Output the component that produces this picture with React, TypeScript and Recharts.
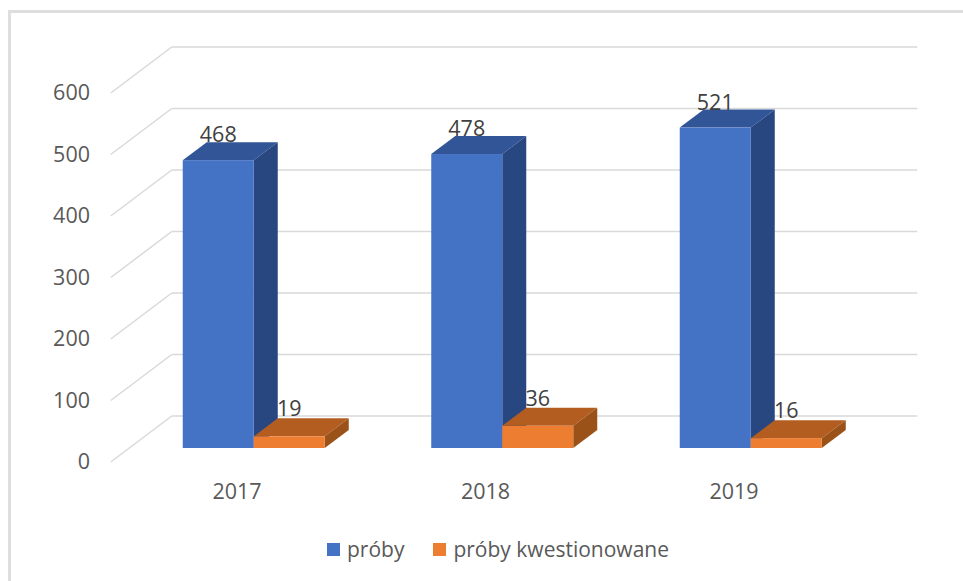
import React from 'react';
import { BarChart, Bar, XAxis, YAxis, CartesianGrid, Legend, LabelList } from 'recharts';

const YEARS = ['2017', '2018', '2019'];
const PROBY = [468, 478, 521];
const KWESTIONOWANE = [19, 36, 16];
const Y_TICKS = [0, 100, 200, 300, 400, 500, 600];

const data = YEARS.map((year, i) => ({ year, proby: PROBY[i], kwestionowane: KWESTIONOWANE[i] }));

const FONT = '"Open Sans", sans-serif';
const TEXT = '#595959';
const DEPTH_X = 24;
const DEPTH_Y = 18;

// floor depth of the fake 3D grid, relative to the plane the bars stand on
const WALL_DX = 42;
const WALL_DY = -32;
const FLOOR_DX = -19;
const FLOOR_DY = 14;

const Box = (props: any) => {
  const { x, y, width, height, fill, top, side } = props;
  const r = x + width;
  const b = y + height;
  return (
    <g>
      <polygon points={`${x},${y} ${x + DEPTH_X},${y - DEPTH_Y} ${r + DEPTH_X},${y - DEPTH_Y} ${r},${y}`} fill={top} />
      <polygon points={`${r},${y} ${r + DEPTH_X},${y - DEPTH_Y} ${r + DEPTH_X},${b - DEPTH_Y} ${r},${b}`} fill={side} />
      <rect x={x} y={y} width={width} height={height} fill={fill} />
    </g>
  );
};

const GridLine = (props: any) => {
  const { x1, x2, y1 } = props;
  const backX = x1 + WALL_DX;
  const backY = y1 + WALL_DY;
  return (
    <g>
      <line x1={x1 + FLOOR_DX} y1={y1 + FLOOR_DY} x2={backX} y2={backY} stroke="#d9d9d9" strokeWidth={1.5} />
      <line x1={backX} y1={backY} x2={x2 + WALL_DX} y2={backY} stroke="#d9d9d9" strokeWidth={1.5} />
    </g>
  );
};

const valueLabel = (lift: number) => (props: any) => {
  const { x, y, width, value } = props;
  return (
    <text x={x + width / 2} y={y - lift} textAnchor="middle" fontFamily={FONT} fontSize={21.5} fill="#404040">
      {value}
    </text>
  );
};

const YTick = (props: any) => (
  <text x={90} y={props.y + 21} textAnchor="end" fontFamily={FONT} fontSize={21.5} fill={TEXT}>
    {props.payload.value}
  </text>
);

const XTick = (props: any) => (
  <text x={props.x - 17} y={499} textAnchor="middle" fontFamily={FONT} fontSize={21.5} fill={TEXT}>
    {props.payload.value}
  </text>
);

const LegendContent = (props: any) => (
  <div style={{ display: 'flex', paddingLeft: 327, height: 30, alignItems: 'center', fontFamily: FONT, fontSize: 21, color: TEXT }}>
    {props.payload.map((entry: any, i: number) => (
      <span key={entry.value} style={{ display: 'flex', alignItems: 'center', marginLeft: i ? 29 : 0 }}>
        <span style={{ width: 13, height: 13, background: entry.color, marginRight: 7 }} />
        {entry.value}
      </span>
    ))}
  </div>
);

export default function App() {
  return (
    <div style={{ position: 'absolute', left: 0, top: 0, width: 963, height: 581, background: '#fff', overflow: 'hidden' }}>
      <div style={{ position: 'absolute', left: 8, top: 10, width: 970, height: 590, borderTop: '3px solid #dedede', borderLeft: '3px solid #dedede' }} />
      <div style={{ position: 'absolute', left: 0, top: 0 }}>
        <BarChart
          width={963}
          height={581}
          data={data}
          barSize={71}
          barGap={0}
          margin={{ top: 79, right: 87.75, bottom: 43, left: 29.75 }}
        >
          <CartesianGrid vertical={false} horizontal={(p: any) => <GridLine key={p.key ?? p.index} {...p} />} />
          <XAxis dataKey="year" axisLine={false} tickLine={false} tick={XTick} height={60} />
          <YAxis width={100} domain={[0, 600]} ticks={Y_TICKS} axisLine={false} tickLine={false} tick={YTick} />
          <Legend content={LegendContent} verticalAlign="bottom" wrapperStyle={{ top: 534, left: 0, width: 963 }} />
          <Bar
            dataKey="proby"
            name="próby"
            fill="#4472c4"
            isAnimationActive={false}
            shape={(p: any) => <Box {...p} top="#315597" side="#284680" />}
          >
            <LabelList dataKey="proby" content={valueLabel(18)} />
          </Bar>
          <Bar
            dataKey="kwestionowane"
            name="próby kwestionowane"
            fill="#ed7d31"
            isAnimationActive={false}
            shape={(p: any) => <Box {...p} top="#b35d20" side="#9a5219" />}
          >
            <LabelList dataKey="kwestionowane" content={valueLabel(20)} />
          </Bar>
        </BarChart>
      </div>
    </div>
  );
}
